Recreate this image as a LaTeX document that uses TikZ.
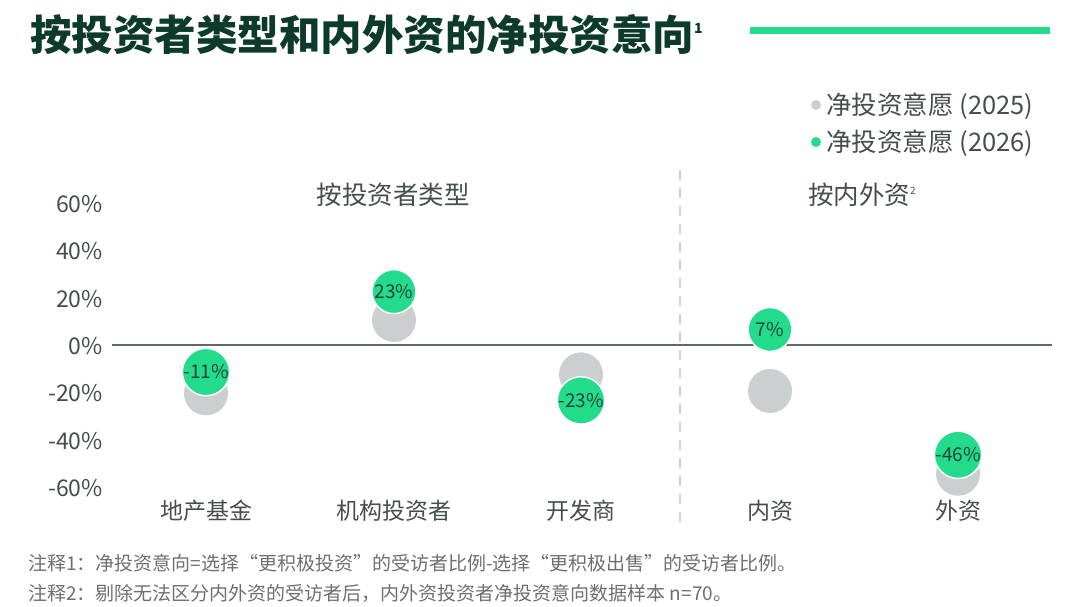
\documentclass[tikz,border=0pt]{standalone}
\usepackage{fontspec}
\setmainfont{Noto Sans CJK SC}
\usetikzlibrary{positioning}
\definecolor{mintgreen}{HTML}{22DC8C}
\definecolor{dotgray}{HTML}{CBCFCF}
\definecolor{titlegreen}{HTML}{0D3B2B}
\definecolor{axisgray}{HTML}{454D4D}
\definecolor{notegray}{HTML}{6A7070}
\begin{document}
\begin{tikzpicture}[x=1pt,y=-1pt,
    ticklabel/.style={anchor=east,inner sep=0pt,text=axisgray,font=\fontsize{23}{23}\selectfont},
    catlabel/.style={inner sep=0pt,text=axisgray,font=\fontsize{23}{23}\selectfont},
    grouplabel/.style={inner sep=0pt,text=axisgray,font=\fontsize{25.5}{25.5}\selectfont},
    olddot/.style={circle,fill=dotgray,minimum size=44pt,inner sep=0pt},
    newdot/.style={circle,fill=mintgreen,draw=white,line width=1.5pt,minimum size=44pt,inner sep=0pt,
        text=titlegreen!85!gray,font=\fontsize{19}{19}\selectfont},
    legtext/.style={anchor=west,inner sep=0pt,text=axisgray,font=\fontsize{25.5}{25.5}\selectfont},
    notetext/.style={anchor=west,inner sep=0pt,text=notegray,font=\fontsize{19}{19}\selectfont}]
    \useasboundingbox (0,0) rectangle (1078,606);

    % Title and bar
    \node[anchor=west,inner sep=0pt,text=titlegreen,font=\bfseries\fontsize{41.5}{41.5}\selectfont] (title) at (30,35)
        {按投资者类型和内外资的净投资意向\raisebox{17pt}{\fontsize{14}{14}\selectfont 1}};
    \coordinate (bar-l) at (750,30); \coordinate (bar-r) at (1050,30);
    \draw[mintgreen, line width=7pt] (bar-l)--(bar-r);

    % Legend
    \fill[dotgray] (816,105) circle (5); \node[legtext] (leg1) at (826,106) {净投资意愿 (2025)};
    \fill[mintgreen] (816,142) circle (5); \node[legtext] (leg2) at (826,143) {净投资意愿 (2026)};

    % Axis
    \foreach \v in {60,40,...,-60} \node[ticklabel] (tick\v) at (103,{346-2.365*\v}) {\v\%};
    \coordinate (zero-l) at (112,345); \coordinate (zero-r) at (1052,345);
    \draw[axisgray!85, line width=1.3pt] (zero-l)--(zero-r);
    \coordinate (div-t) at (680,170); \coordinate (div-b) at (680,526);
    \draw[black!18, line width=1.2pt, dash pattern=on 10pt off 8pt] (div-t)--(div-b);

    \node[grouplabel] (grp1) at (393,195) {按投资者类型};
    \node[grouplabel] (grp2) at (862,195) {按内外资\raisebox{10pt}{\fontsize{10}{10}\selectfont 2}};

    % Data: 2025 grey, 2026 green
    \foreach \i/\x/\cat/\old/\new in {1/206/地产基金/-20/-11, 2/394/机构投资者/11/23, 3/581/开发商/-12/-23,
        4/770/内资/-19/7, 5/958/外资/-54/-46} {
        \node[catlabel] (cat\i) at (\x,511) {\cat};
        \node[olddot] (old\i) at (\x,{346-2.365*\old}) {};
        \node[newdot] (new\i) at (\x,{346-2.365*\new}) {\new\%};
    }

    % Notes
    \node[notetext] (note1) at (28,563) {注释1：净投资意向=选择“更积极投资”的受访者比例-选择“更积极出售”的受访者比例。};
    \node[notetext] (note2) at (28,593) {注释2：剔除无法区分内外资的受访者后，内外资投资者净投资意向数据样本 n=70。};
\end{tikzpicture}
\end{document}
